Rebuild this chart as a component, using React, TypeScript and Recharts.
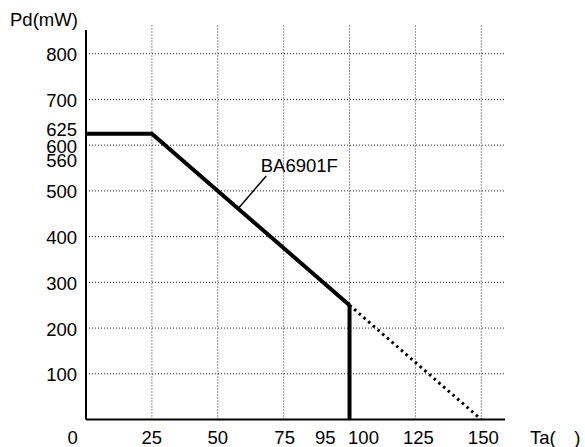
import React from "react";
import { LineChart, Line, XAxis, YAxis, ReferenceLine, ReferenceDot } from "recharts";

const xTicks = [0, 25, 50, 75, 95, 100, 125, 150];
const yTicks = [100, 200, 300, 400, 500, 560, 600, 625, 700, 800];
const xGrid = [25, 50, 75, 100, 125, 150];
const yGrid = [100, 200, 300, 400, 500, 600, 700, 800];

const deratingSolid = [
  { x: 0, y: 625 },
  { x: 25, y: 625 },
  { x: 100, y: 250 },
];
const cutoffLine = [
  { x: 100, y: 250 },
  { x: 100, y: 0 },
];
const extrapolated = [
  { x: 100, y: 250 },
  { x: 150, y: 0 },
];

const seriesName = "BA6901F";
const yTitle = "Pd(mW)";
const xTitle = "Ta(\u2003)";

const FONT = "'Liberation Sans', Arial, Helvetica, sans-serif";
const FS = 18.5;

const xNudge: Record<number, number> = { 0: -13.3, 75: 1, 95: -11, 100: 14, 125: 3, 150: 2 };
const yNudge: Record<number, number> = { 625: -5, 560: -3.5 };

const XTick = (props: any) => {
  const { x, y, payload } = props;
  const v = payload.value;
  return (
    <text x={x + (xNudge[v] || 0)} y={y + 24.5} textAnchor="middle" fontFamily={FONT} fontSize={FS} fill="#000">
      {v}
    </text>
  );
};

const YTick = (props: any) => {
  const { x, y, payload } = props;
  const v = payload.value;
  return (
    <text x={x} y={y + 1 + (yNudge[v] || 0)} textAnchor="end" dominantBaseline="central" fontFamily={FONT} fontSize={FS} fill="#000">
      {v}
    </text>
  );
};

export default function App() {
  return (
    <div style={{ position: "absolute", left: 0, top: 0, background: "#fff" }}>
      <LineChart width={585} height={447} margin={{ top: 24, right: 80, left: 0, bottom: 0 }}>
        <XAxis
          type="number"
          dataKey="x"
          domain={[0, 159]}
          ticks={xTicks}
          interval={0}
          allowDataOverflow
          height={27.5}
          tickSize={0}
          tickMargin={0}
          tickLine={false}
          axisLine={{ stroke: "#000", strokeWidth: 2 }}
          tick={<XTick />}
          label={{
            content: () => (
              <text x={530} y={444} fontFamily={FONT} fontSize={FS} fill="#000" style={{ whiteSpace: "pre" }}>
                {xTitle}
              </text>
            ),
          }}
        />
        <YAxis
          type="number"
          dataKey="y"
          domain={[0, 865]}
          ticks={yTicks}
          interval={0}
          allowDataOverflow
          width={86}
          tickSize={0}
          tickMargin={9}
          tickLine={false}
          axisLine={false}
          tick={<YTick />}
          label={{
            content: () => (
              <text x={10} y={26} fontFamily={FONT} fontSize={FS} fill="#000">
                {yTitle}
              </text>
            ),
          }}
        />
        {yGrid.map((v) => (
          <ReferenceLine key={"h" + v} y={v} stroke="#222" strokeWidth={1} strokeDasharray="1 2" />
        ))}
        {xGrid.map((v) => (
          <ReferenceLine key={"v" + v} x={v} stroke="#222" strokeWidth={1} strokeDasharray="1 2" />
        ))}
        <ReferenceLine
          segment={[
            { x: 0, y: 0 },
            { x: 0, y: 852 },
          ]}
          stroke="#000"
          strokeWidth={2}
        />
        <ReferenceLine
          segment={[
            { x: 58.1, y: 463.5 },
            { x: 68.4, y: 532.8 },
          ]}
          stroke="#000"
          strokeWidth={1.5}
        />
        <ReferenceDot
          x={66.3}
          y={541.6}
          r={0}
          fill="none"
          stroke="none"
          label={{
            content: (p: any) => (
              <text x={p.viewBox.x} y={p.viewBox.y} fontFamily={FONT} fontSize={FS} fill="#000">
                {seriesName}
              </text>
            ),
          }}
        />
        <Line
          data={extrapolated}
          dataKey="y"
          stroke="#000"
          strokeWidth={3}
          strokeDasharray="2.5 3.7"
          dot={false}
          activeDot={false}
          isAnimationActive={false}
        />
        <Line
          data={cutoffLine}
          dataKey="y"
          stroke="#000"
          strokeWidth={4}
          dot={false}
          activeDot={false}
          isAnimationActive={false}
        />
        <Line
          data={deratingSolid}
          dataKey="y"
          stroke="#000"
          strokeWidth={4}
          dot={false}
          activeDot={false}
          isAnimationActive={false}
        />
      </LineChart>
    </div>
  );
}
